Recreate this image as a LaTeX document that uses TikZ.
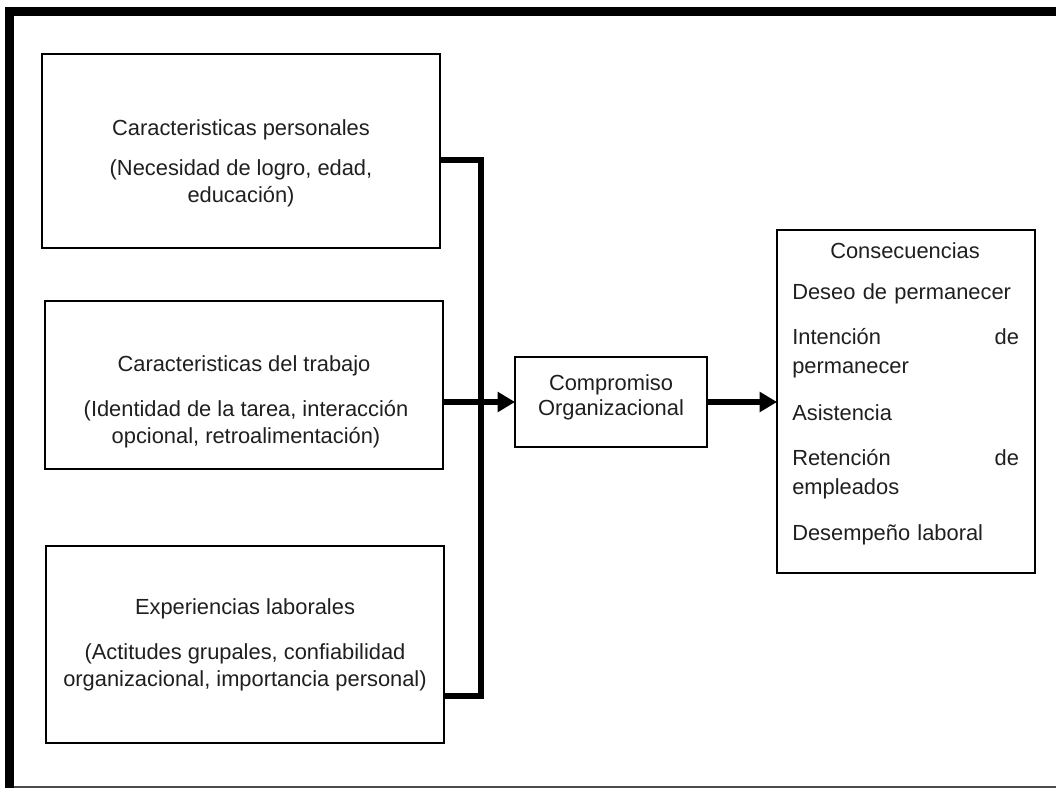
\documentclass[tikz,border=0pt]{standalone}
\usepackage{fontspec}
\setmainfont{Liberation Sans}
\usetikzlibrary{arrows.meta}
\begin{document}
\begin{tikzpicture}[x=0.75pt,y=-0.75pt,
  box/.style={draw=black,line width=1.9pt,inner sep=0pt,outer sep=0pt},
  txt/.style={inner sep=0pt,align=center,font=\fontsize{16.4}{20.25}\selectfont,text=black!88},
  ltxt/.style={inner sep=0pt,anchor=west,text width=170pt,align=left,
    font=\fontsize{16.4}{21.75}\selectfont,text=black!88},
  link/.style={line width=3.9pt},
  arr/.style={line width=3.9pt,-{Triangle[length=13pt,width=14.5pt]}}
]
\useasboundingbox (0,0) rectangle (1056,788);
% page frame: heavy rule top and left, hairline at the foot
\fill[black] (5,7) rectangle (1056,16);
\fill[black] (5,7) rectangle (14,788);
\draw[black!70,line width=1.5pt] (14,786.5) -- (1056,786.5);

% antecedents
\node[box,minimum width=298.5pt,minimum height=145.5pt] (b1) at (241,151) {};
\node[box,minimum width=298.5pt,minimum height=126pt] (b2) at (244,385) {};
\node[box,minimum width=298.5pt,minimum height=147.75pt] (b3) at (245,644.5) {};

\node[txt] (b1t) at (241,130) {Caracteristicas personales};
\node[txt] (b1p) at (241,183.5) {(Necesidad de logro, edad,\\educación)};
\node[txt] (b2t) at (244,366) {Caracteristicas del trabajo};
\node[txt] (b2p) at (246,424.5) {(Identidad de la tarea, interacción\\opcional, retroalimentación)};
\node[txt] (b3t) at (245,609) {Experiencias laborales};
\node[txt] (b3p) at (245,667) {(Actitudes grupales, confiabilidad\\organizacional, importancia personal)};

% central construct
\node[box,minimum width=144pt,minimum height=67.5pt] (cp) at (611,402) {};
\node[txt,font=\fontsize{16.4}{18.75}\selectfont] (cpt) at (611,397.5) {Compromiso\\Organizacional};

% outcomes
\node[box,minimum width=193.5pt,minimum height=257.25pt] (cs) at (906,401.5) {};
\node[txt] (cst) at (905,251) {Consecuencias};
\node[ltxt] (c1) at (792,294) {Deseo de permanecer};
\node[ltxt] (c2) at (792,353) {Intención\hfill de\\permanecer};
\node[ltxt] (c3) at (792,413) {Asistencia};
\node[ltxt] (c4) at (792,474) {Retención\hfill de\\empleados};
\node[ltxt] (c5) at (792,535) {Desempeño laboral};

% connectors
\coordinate (j1) at (481,160);
\coordinate (j3) at (481,696);
\draw[link,line join=miter] (b1.east |- j1) -- (j1) -- (j3) -- (b3.east |- j3);
\draw[arr] (b2.east |- cp.west) -- (cp.west);
\draw[arr] (cp.east) -- (cs.west |- cp.east);
\end{tikzpicture}
\end{document}
